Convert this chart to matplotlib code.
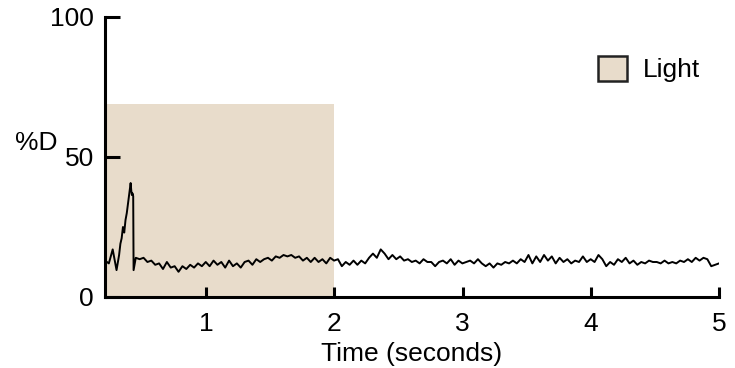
import numpy as np
import matplotlib
matplotlib.use("Agg")
import matplotlib.pyplot as plt
from matplotlib.patches import Patch

plt.rcParams['font.family'] = ['Liberation Sans', 'DejaVu Sans']

# light stimulus window (s) and its drawn height (%D)
light_start = 0.21
light_end = 2.0
light_level = 69

# early response incl. the transient spike
spike_t = [0.21, 0.24, 0.27, 0.30, 0.32, 0.33, 0.34, 0.35, 0.36, 0.37, 0.38, 0.39,
           0.40, 0.41, 0.415, 0.42, 0.425, 0.43, 0.433]
spike_v = [13, 12, 17, 9.6, 15, 19, 21, 25, 23, 27.5, 30, 33.6,
           37, 40.7, 38, 36.4, 37, 36, 9.6]

steady_v = [14, 13.5, 14, 12.5, 13, 11.5, 12, 10, 12.5, 10.5, 11, 9, 11, 10,
            11.5, 10.5, 12, 11, 12.5,
            11, 13, 11.5, 12.5, 10.5, 13, 11, 12, 10.5, 12.5, 13, 11.5, 13.5,
            12.5, 13.5, 14, 13, 14.5, 14, 15, 14.5, 15, 14, 14.5, 13, 14, 12.5,
            14, 12.5, 13.5, 12, 14, 13,
            13.5, 11, 12.5, 11.5, 13, 11.5, 13, 12, 14, 15.5, 14, 17, 15.5,
            13.5, 15, 13.5, 14.5, 13, 13.5, 12.5, 13, 12, 13.5, 12.5, 12.5, 11,
            12.5, 13, 12, 13.5, 11.5, 13, 12,
            12.5, 13, 12, 13.5, 12, 11, 12, 10.5, 12, 11.5, 12.5, 12, 13, 12,
            13.5, 12.5, 15, 12, 14.5, 12.5, 15, 13, 14.5, 12, 14, 12.5, 13.5,
            12, 13, 12.5, 14.5, 12.5, 13.5,
            12.5, 15, 13.5, 11, 12.5, 11.5, 13.5, 12.5, 14, 12, 13, 11.5, 12.5,
            12, 13, 12.5, 12.5, 12, 13, 12, 12.5, 12, 13, 12.5, 13.5, 12.5, 14,
            13, 14, 13.5, 11, 11.5, 12]
steady_t = np.linspace(0.45, 5.0, len(steady_v))

time = np.concatenate([spike_t, steady_t])
percent_d = np.concatenate([spike_v, steady_v])

fig = plt.figure(figsize=(7.35, 3.68), dpi=100)
ax = fig.add_axes([105 / 735, 1 - 297 / 368, 614 / 735, 280 / 368])

ax.fill_between([light_start, light_end], 0, light_level,
                color='#e8dccb', linewidth=0, zorder=0)
ax.plot(time, percent_d, color='black', linewidth=1.4)

ax.set_xlim(light_start, 5.0)
ax.set_ylim(0, 100)
ax.set_xticks([1, 2, 3, 4, 5])
ax.set_yticks([0, 50, 100])

for side in ['top', 'right']:
    ax.spines[side].set_visible(False)
for side in ['left', 'bottom']:
    ax.spines[side].set_linewidth(2.2)

ax.tick_params(axis='x', direction='in', length=7, width=2.2,
               labelsize=19, pad=11)
ax.tick_params(axis='y', direction='in', length=11, width=2.2,
               labelsize=19, pad=8)

ax.set_xlabel("Time (seconds)", fontsize=19, labelpad=4)
fig.text(58 / 735, 1 - 143 / 368, "%D", ha='right', va='center', fontsize=19)

handle = Patch(facecolor='#e8dccb', edgecolor='#222222', linewidth=1.8)
ax.legend([handle], ["Light"], loc='center left', frameon=False,
          bbox_to_anchor=(598 / 735, 1 - 69 / 368),
          bbox_transform=fig.transFigure, fontsize=19,
          handlelength=1.1, handleheight=1.1, handletextpad=0.6,
          borderpad=0, borderaxespad=0)

plt.savefig("out.png", dpi=100)
